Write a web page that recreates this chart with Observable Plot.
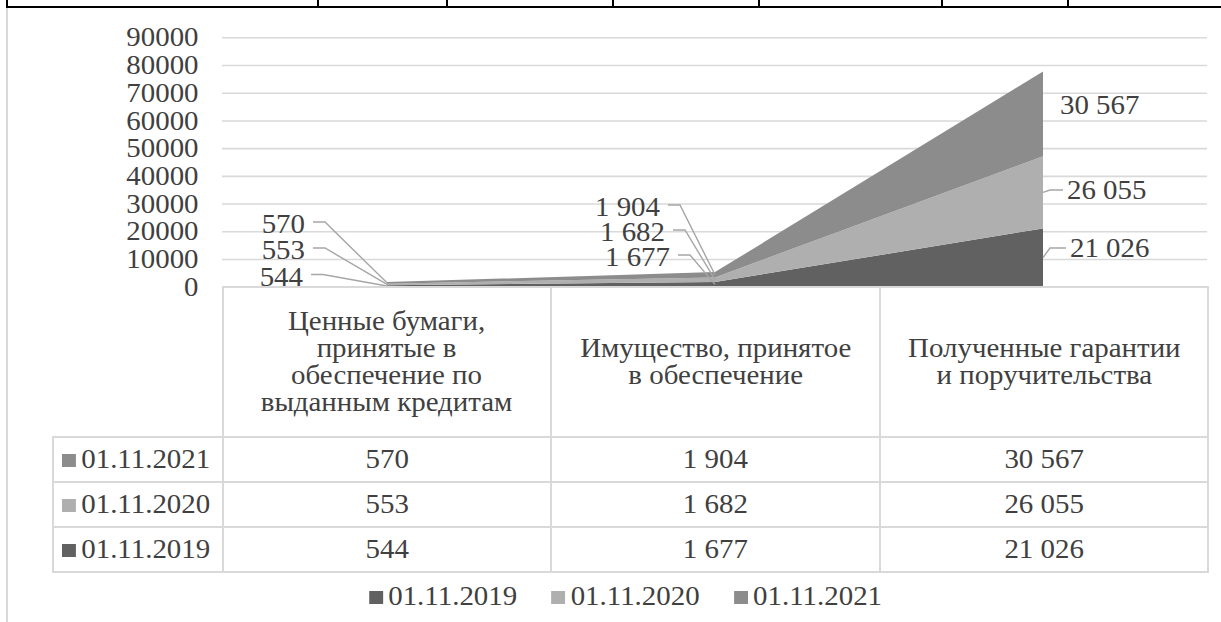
<!DOCTYPE html>
<html><head><meta charset="utf-8">
<script src="https://cdn.jsdelivr.net/npm/d3@7"></script>
<script src="https://cdn.jsdelivr.net/npm/@observablehq/plot@0.6"></script>
<style>
body{margin:0;background:#fff;}
#wrap{position:relative;width:1221px;height:622px;overflow:hidden;background:#fff;font-family:"Liberation Serif","Times New Roman",Times,serif;color:#404040;}
.pl{position:absolute;background:#000;}
.gl{position:absolute;background:#d9d9d9;}
#chart{position:absolute;left:0;top:0;}
table.dt{position:absolute;left:52px;top:286px;border-collapse:collapse;table-layout:fixed;font-size:27px;line-height:27px;}
table.dt td{border:2px solid #d9d9d9;padding:0;text-align:center;vertical-align:middle;white-space:nowrap;}
table.dt td.blank{border:none;border-right:2px solid #d9d9d9;}
table.dt td.lab{text-align:left;padding-left:8px;}
table.dt tr.hd td{height:148px;}
table.dt tr.row td{height:43px;}
.st{display:inline-block;transform:scaleX(1.07);transform-origin:50% 50%;}
td.lab .st{transform-origin:0 50%;}
.sq{display:inline-block;width:13px;height:13px;margin-right:5px;vertical-align:1px;}
#legend{position:absolute;left:15px;top:579px;width:1221px;text-align:center;font-size:27px;line-height:34px;transform:scaleX(1.07);transform-origin:50% 50%;white-space:nowrap;}
#legend span.it{margin:0 16px;}
</style></head><body><div id="wrap"></div>
<script>
// ---- data ----
const categories = [
  "Ценные бумаги, принятые в обеспечение по выданным кредитам",
  "Имущество, принятое в обеспечение",
  "Полученные гарантии и поручительства"
];
const categoryLines = [
  ["Ценные бумаги,", "принятые в", "обеспечение по", "выданным кредитам"],
  ["Имущество, принятое", "в обеспечение"],
  ["Полученные гарантии", "и поручительства"]
];
const years = ["01.11.2019", "01.11.2020", "01.11.2021"];
const values2019 = [544, 1677, 21026];
const values2020 = [553, 1682, 26055];
const values2021 = [570, 1904, 30567];
const yTicks = [0, 10000, 20000, 30000, 40000, 50000, 60000, 70000, 80000, 90000];
const seriesColors = ["#616161", "#afafaf", "#8c8c8c"];

// label layout in pixels (placement only, not data)
const labelLayout = [
  {s:2, c:0, tx:305, ty:224, side:"L"},
  {s:1, c:0, tx:305, ty:250, side:"L"},
  {s:0, c:0, tx:303, ty:276.5, side:"L"},
  {s:2, c:1, tx:660, ty:207, side:"L"},
  {s:1, c:1, tx:665, ty:232, side:"L"},
  {s:0, c:1, tx:670, ty:257, side:"L"},
  {s:2, c:2, tx:1060, ty:105, side:"R", noLeader:true},
  {s:1, c:2, tx:1067, ty:190, side:"R"},
  {s:0, c:2, tx:1070, ty:248, side:"R"}
];
const STRETCH = 1.07;

const seriesValues = [values2019, values2020, values2021];
const ru = d3.formatLocale({decimal:",", thousands:" ", grouping:[3], currency:["",""]});
const fmt = ru.format(",d");

const long = [];
years.forEach((yr, s) => categories.forEach((cat, i) => long.push({year: yr, category: cat, value: seriesValues[s][i]})));

function bandMid(s, i) {
  let base = 0;
  for (let k = 0; k < s; k++) base += seriesValues[k][i];
  return base + seriesValues[s][i] / 2;
}

const wrap = d3.select("#wrap");

// decorative document-table lines
wrap.append("div").attr("class","pl").style("left","6px").style("top","6px").style("width","1215px").style("height","2px");
[6, 317, 446, 612, 758, 941, 1067].forEach(x => wrap.append("div").attr("class","pl").style("left", x+"px").style("top","0px").style("width","2px").style("height","7px"));
wrap.append("div").attr("class","gl").style("left","6px").style("top","8px").style("width","2px").style("height","614px");

const fontFam = '"Liberation Serif","Times New Roman",Times,serif';

const plot = Plot.plot({
  width: 1221, height: 300,
  marginLeft: 222, marginRight: 14, marginTop: 37.3, marginBottom: 13.3,
  x: {type: "point", domain: categories, padding: 0.5, axis: null},
  y: {domain: [0, 90000], axis: null},
  color: {domain: years, range: seriesColors},
  style: {fontFamily: fontFam, fontSize: "27px", color: "#404040", background: "transparent", overflow: "visible"},
  marks: [
    Plot.gridY(yTicks, {stroke: "#d9d9d9", strokeOpacity: 1, strokeWidth: 1.6}),
    Plot.axisY(yTicks, {tickSize: 0, tickPadding: 24, tickFormat: d => String(d), fontSize: 27, fill: "#404040", label: null}),
    Plot.areaY(long, {x: "category", y: "value", fill: "year", z: "year", curve: "linear"})
  ]
});
plot.id = "chart";
wrap.node().appendChild(plot);

// leader lines and data labels, anchored through the plot's scales
const sx = plot.scale("x"), sy = plot.scale("y");
const g = d3.select(plot).append("g");
labelLayout.forEach(l => {
  const cat = categories[l.c];
  const ax = sx.apply(cat), ay = sy.apply(bandMid(l.s, l.c));
  if (!l.noLeader) {
    const d = l.side === "L"
      ? `M${l.tx + 8},${l.ty - 2}H${l.tx + 20}L${ax},${ay}`
      : `M${ax},${ay}L${ax + 7},${l.ty}H${l.tx - 4}`;
    g.append("path").attr("d", d).attr("fill", "none").attr("stroke", "#a6a6a6").attr("stroke-width", 1.4);
  }
  g.append("text").attr("x", l.tx).attr("y", l.ty).attr("dy", "0.35em")
    .attr("text-anchor", l.side === "L" ? "end" : "start")
    .attr("fill", "#404040").attr("font-size", 27).attr("font-family", fontFam)
    .text(fmt(seriesValues[l.s][l.c]));
});
// widen glyphs slightly, as in the reference
d3.select(plot).selectAll("text").each(function() {
  const w = this.getComputedTextLength();
  if (w > 0) { this.setAttribute("textLength", (w * STRETCH).toFixed(1)); this.setAttribute("lengthAdjust", "spacingAndGlyphs"); }
});

// data table
const table = wrap.append("table").attr("class","dt");
const cg = table.append("colgroup");
[170, 328, 329, 328].forEach(w => cg.append("col").style("width", w + "px"));
const hd = table.append("tr").attr("class","hd");
hd.append("td").attr("class","blank");
categoryLines.forEach(lines => hd.append("td").append("span").attr("class","st").html(lines.join("<br>")));
[2, 1, 0].forEach(s => {
  const tr = table.append("tr").attr("class","row");
  const sp = tr.append("td").attr("class","lab").append("span").attr("class","st");
  sp.append("span").attr("class","sq").style("background", seriesColors[s]);
  sp.append("span").text(years[s]);
  seriesValues[s].forEach(v => tr.append("td").append("span").attr("class","st").text(fmt(v)));
});

// legend
const lg = wrap.append("div").attr("id","legend");
years.forEach((yr, s) => {
  const it = lg.append("span").attr("class","it");
  it.append("span").attr("class","sq").style("background", seriesColors[s]);
  it.append("span").text(yr);
});
</script></body></html>
